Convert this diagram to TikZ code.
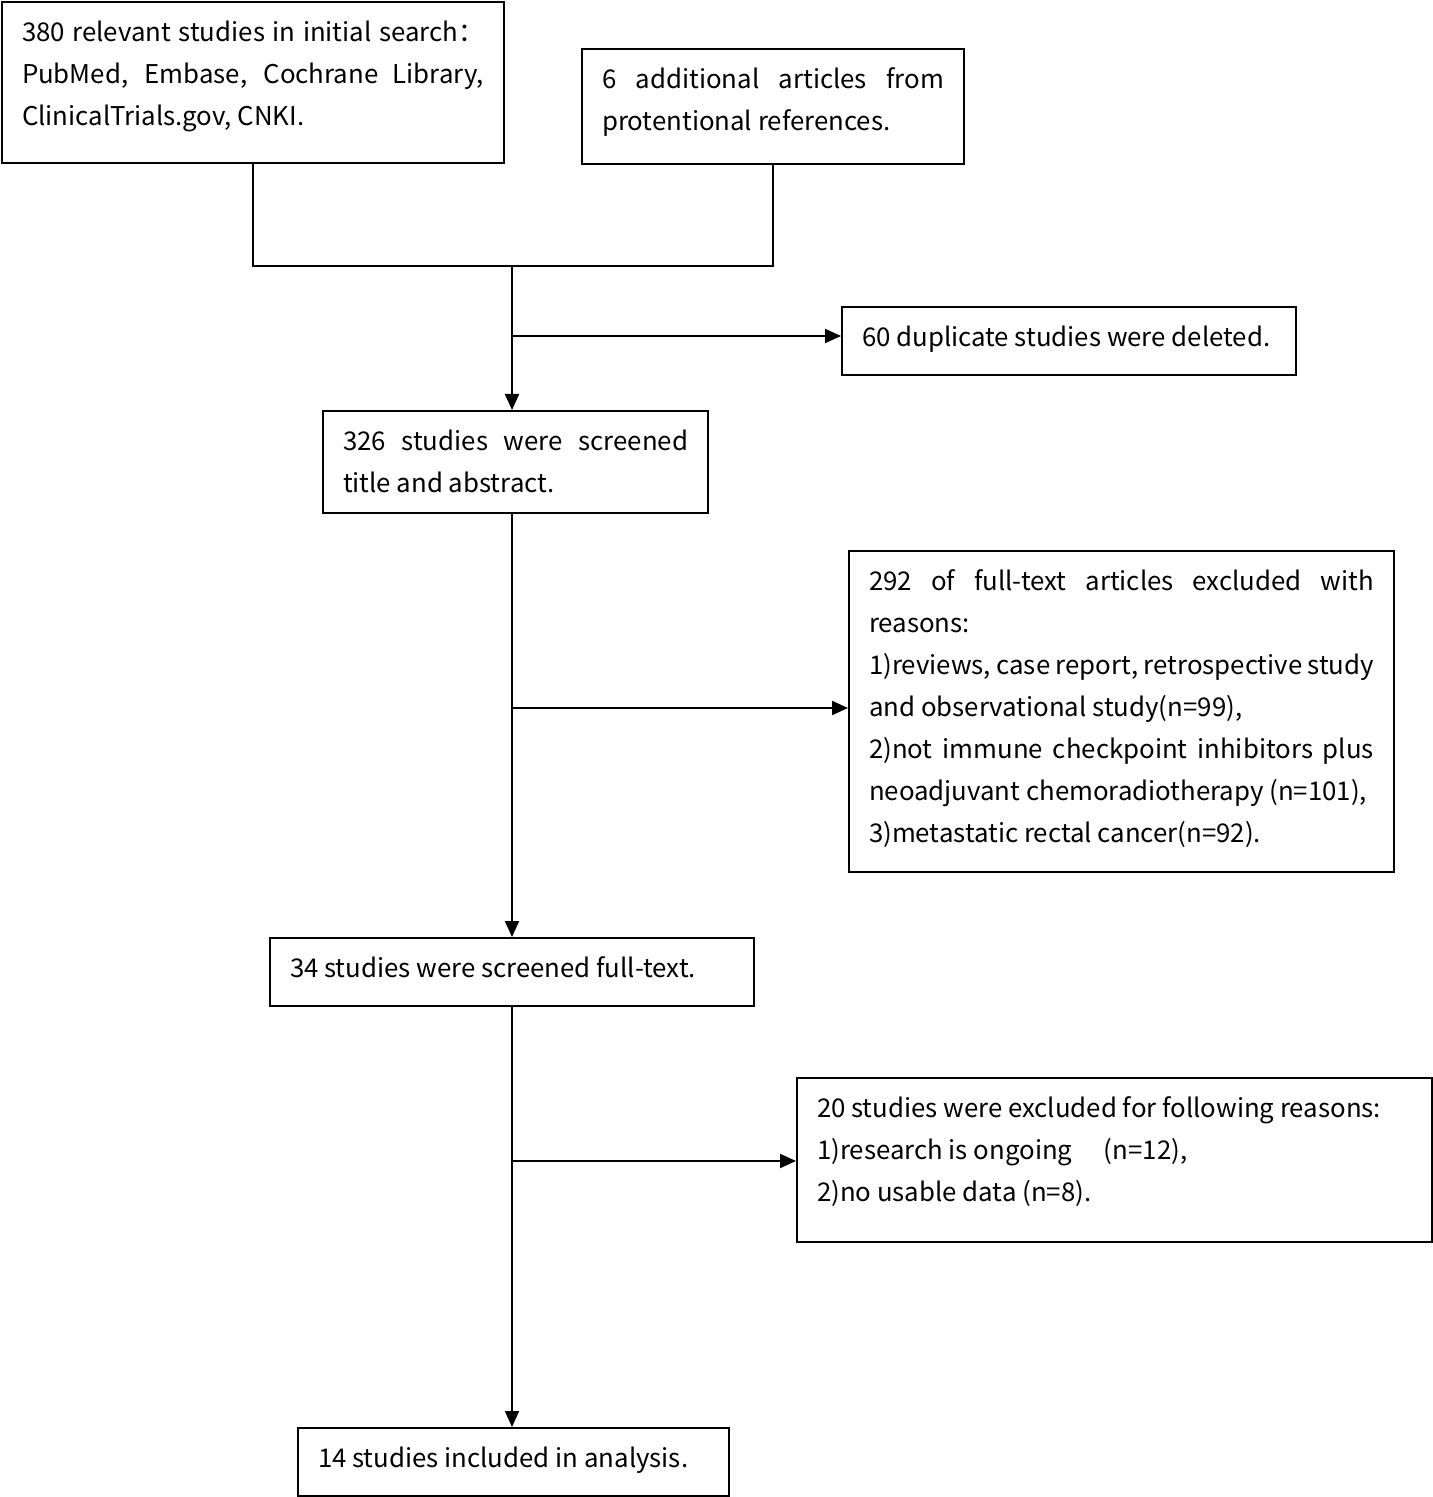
\documentclass[tikz,border=0pt]{standalone}
\usepackage{fontspec}
\setmainfont{Noto Sans CJK SC}
\usepackage{tikz}
\usetikzlibrary{positioning,calc,arrows.meta}
\newcommand{\stagetext}[3]{\parbox[c][#2][t]{#1}{\strut #3}}
\tikzstyle{stage} = [draw, rectangle, anchor=north west, line width=1pt, inner xsep=10pt, inner ysep=5pt, font=\fontsize{12.9}{21}\selectfont]
\tikzstyle{link} = [line width=1pt]
\tikzstyle{to} = [-{Triangle[length=8pt,width=7pt]}, line width=1pt]
\begin{document}
\begin{tikzpicture}[x=0.5pt, y=-0.5pt]
	\useasboundingbox (0,0) rectangle (1432,1497);
	% boxes, placed at their top left corners (pixels)
	\node (search) [stage] at (1,1) {\stagetext{231pt}{70.5pt}{380 relevant studies in initial search：\linebreak PubMed, Embase, Cochrane Library,\linebreak ClinicalTrials.gov, CNKI.}};
	\node (extra) [stage] at (581,48) {\stagetext{171pt}{47.5pt}{6 additional articles from\linebreak protentional references.}};
	\node (dup) [stage] at (841,306) {\stagetext{207pt}{24pt}{60 duplicate studies were deleted.}};
	\node (screen) [stage] at (322,410) {\stagetext{172.5pt}{41pt}{326 studies were screened\linebreak title and abstract.}};
	\node (excl) [stage] at (848,550) {\stagetext{252.5pt}{150.5pt}{292 of full-text articles excluded with\linebreak reasons:\\ 1)reviews, case report, retrospective study\linebreak and observational study(n=99),\\ 2)not immune checkpoint inhibitors plus\linebreak neoadjuvant chemoradiotherapy (n=101),\\ 3)metastatic rectal cancer(n=92).}};
	\node (full) [stage] at (269,937) {\stagetext{222pt}{24pt}{34 studies were screened full-text.}};
	\node (drop) [stage] at (796,1077) {\stagetext{297.5pt}{72pt}{20 studies were excluded for following reasons:\\ 1)research is ongoing\quad\ (n=12),\\ 2)no usable data (n=8).}};
	\node (final) [stage] at (297,1427) {\stagetext{195.5pt}{24pt}{14 studies included in analysis.}};
	% connectors
	\coordinate (merge) at (512,266);
	\coordinate (dupfork) at (512,336);
	\coordinate (exclfork) at (512,708);
	\coordinate (dropfork) at (512,1161);
	\draw [link] (search.south) -- (search.south |- merge) -- (extra.south |- merge) -- (extra.south);
	\draw [to] (merge) -- (merge |- screen.north);
	\draw [to] (dupfork) -- (dupfork -| dup.west);
	\draw [to] (merge |- screen.south) -- (merge |- full.north);
	\draw [to] (exclfork) -- (exclfork -| excl.west);
	\draw [to] (merge |- full.south) -- (merge |- final.north);
	\draw [to] (dropfork) -- (dropfork -| drop.west);
\end{tikzpicture}
\end{document}
